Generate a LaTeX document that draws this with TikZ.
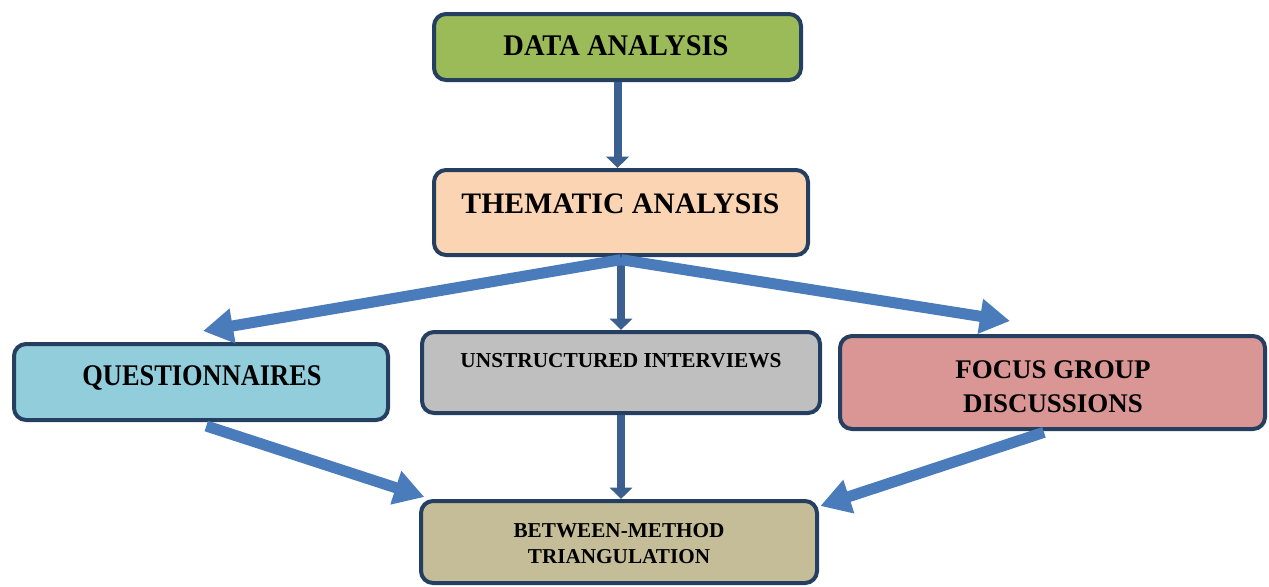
\documentclass[tikz,border=0pt]{standalone}
\usepackage{fontspec}
\setmainfont{Liberation Serif}
\usetikzlibrary{arrows.meta}
\definecolor{edgec}{HTML}{243F60}
\definecolor{darkarrow}{HTML}{3B5F8E}
\definecolor{lightarrow}{HTML}{4A7BBB}
\definecolor{cgreen}{HTML}{9BBB59}
\definecolor{cpeach}{HTML}{FBD4B4}
\definecolor{cblue}{HTML}{92CDDC}
\definecolor{cgray}{HTML}{BFBFBF}
\definecolor{cred}{HTML}{D99694}
\definecolor{ctan}{HTML}{C4BD97}
\begin{document}
\begin{tikzpicture}[x=0.75pt,y=-0.75pt,
  box/.style={draw=edgec, line width=3pt, rounded corners=9pt, inner sep=0pt},
  lbl/.style={anchor=base, inner sep=0pt},
  darr/.style={draw=darkarrow, line width=6pt, -{Triangle[length=8.5pt,width=16.5pt]}},
  larr/.style={draw=lightarrow, line width=8.3pt, -{Triangle[length=22.5pt,width=25pt]}}]
\useasboundingbox (0,0) rectangle (1269,586);
% boxes
\node[box, fill=cgreen, minimum width=275.25pt, minimum height=49.5pt] (da) at (617.5,47) {};
\node[box, fill=cpeach, minimum width=280.5pt, minimum height=63.75pt] (ta) at (621,212.5) {};
\node[box, fill=cblue, minimum width=280.5pt, minimum height=57pt] (q) at (201,382) {};
\node[box, fill=cgray, minimum width=298.5pt, minimum height=60.75pt] (ui) at (621,372.5) {};
\node[box, fill=cred, minimum width=318.75pt, minimum height=69.75pt] (fg) at (1052.5,382.5) {};
\node[box, fill=ctan, minimum width=297pt, minimum height=61.5pt] (bt) at (619,542) {};
% labels
\node[lbl, font=\fontsize{22.5}{26}\selectfont\bfseries] (tda) at (616,55) {\scalebox{0.95}[1]{DATA ANALYSIS}};
\node[lbl, font=\fontsize{22.3}{26}\selectfont\bfseries] (tta) at (620.5,213) {THEMATIC ANALYSIS};
\node[lbl, font=\fontsize{22.5}{26}\selectfont\bfseries] (tq) at (202,385) {\scalebox{0.88}[1]{QUESTIONNAIRES}};
\node[lbl, font=\fontsize{16}{19}\selectfont\bfseries] (tui) at (621,367) {UNSTRUCTURED INTERVIEWS};
\node[lbl, font=\fontsize{20.2}{23}\selectfont\bfseries] (tfg1) at (1053,378) {FOCUS GROUP};
\node[lbl, font=\fontsize{20.2}{23}\selectfont\bfseries] (tfg2) at (1053,412) {DISCUSSIONS};
\node[lbl, font=\fontsize{15.9}{18}\selectfont\bfseries] (tbt1) at (619,537) {BETWEEN-METHOD};
\node[lbl, font=\fontsize{15.9}{18}\selectfont\bfseries] (tbt2) at (619,563) {TRIANGULATION};
% connectors
\draw[darr] (da.south) -- (da.south |- ta.north);
\draw[darr] (ta.south) -- (ta.south |- ui.north);
\draw[darr] (ui.south) -- (ui.south |- bt.north);
\draw[larr] ([yshift=-2pt]ta.south) -- ([xshift=1.5pt,yshift=8.25pt]q.north);
\draw[larr] ([yshift=-2pt]ta.south) -- ([xshift=-31.9pt,yshift=9.75pt]fg.north);
\draw[larr] ([xshift=4pt,yshift=-3pt]q.south) -- ([xshift=4pt,yshift=1.5pt]bt.north west);
\draw[larr] ([xshift=-6.4pt,yshift=-1pt]fg.south) -- ([xshift=1pt,yshift=-5.25pt]bt.north east);
\end{tikzpicture}
\end{document}
